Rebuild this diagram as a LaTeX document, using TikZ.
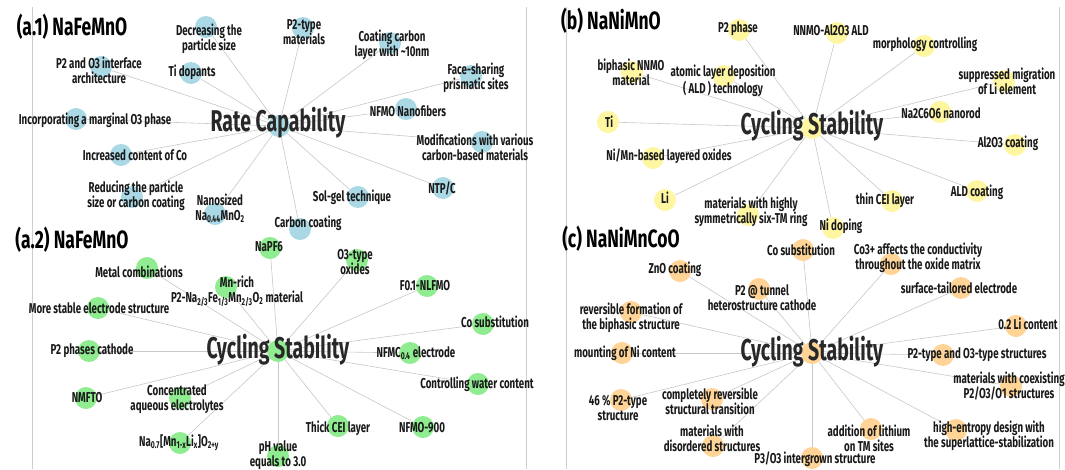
\documentclass[tikz,border=0pt]{standalone}
\usepackage{fontspec}
\setmainfont{Fira Sans}[FakeStretch=0.72]
\newfontfamily\tagfont{Fira Sans}[FakeStretch=0.68]
\newfontfamily\hubfont{Fira Sans}[FakeStretch=0.65]
\newfontfamily\panelfont{Fira Sans}[FakeStretch=0.70]
\usepackage{tikz}

\definecolor{nodeblue}{RGB}{170,216,228}
\definecolor{nodegreen}{RGB}{144,236,144}
\definecolor{nodeyellow}{RGB}{255,246,162}
\definecolor{nodeorange}{RGB}{255,212,150}
\definecolor{labelgray}{RGB}{25,25,25}
\definecolor{hubgray}{RGB}{40,40,40}
\definecolor{linkgray}{RGB}{200,200,200}
\definecolor{framegray}{RGB}{205,205,205}

\pgfdeclarelayer{edges}
\pgfdeclarelayer{labels}
\pgfsetlayers{edges,main,labels}

\tikzset{bubble/.style = {circle, minimum size = 22pt, inner sep = 0, draw = none},
         tag/.style = {align = center, inner sep = 0, text = labelgray,
                       font = \tagfont\bfseries\fontsize{14.3}{15}\selectfont},
         hub/.style = {inner sep = 0, text = hubgray,
                       font = \hubfont\bfseries\fontsize{30}{31}\selectfont},
         panel/.style = {inner sep = 0, text = black,
                         font = \panelfont\bfseries\fontsize{25}{26}\selectfont},
         link/.style = {draw = linkgray, line width = 0.6pt},
         frame/.style = {draw = framegray, line width = 1pt}}

\begin{document}
\begin{tikzpicture}[x = 1pt, y = -1pt]
\useasboundingbox (0,0) rectangle (1065,469);
\begin{pgfonlayer}{edges}
  \fill[white] (0,0) rectangle (1065,469);
  \draw[frame] (32,7) -- (32,469);
  \draw[frame] (526,7) -- (526,469);
  \draw[frame] (566,7) -- (566,469);
  \draw[frame] (1059,7) -- (1059,469);
\end{pgfonlayer}

\begin{pgfonlayer}{labels}
  \node[panel] (Ta1) at (72,27) {(a.1) NaFeMnO};
  \node[panel] (Ta2) at (72,240) {(a.2) NaFeMnO};
  \node[panel] (Tb) at (611,21) {(b) NaNiMnO};
  \node[panel] (Tc) at (621,239) {(c) NaNiMnCoO};
\end{pgfonlayer}

% (a.1)
\node[bubble, fill = nodeblue] (RC) at (279,126) {};
\begin{pgfonlayer}{labels}
  \node[hub] at (278,123) {Rate Capability};
\end{pgfonlayer}
\foreach \cx/\cy/\lx/\ly/\txt [count=\i] in {
    206/27/209/39/{Decreasing the\\particle size},
    101/67/99/70/{P2 and O3 interface\\architecture},
    191/73/192/72/{Ti dopants},
    76/119/95/120/{Incorporating a marginal O3 phase},
    121/155/135/155/{Increased content of Co},
    132/197/136/196/{Reducing the particle\\size or carbon coating},
    215/214/220/208/{Nanosized\\Na\textsubscript{0.44}MnO\textsubscript{2}},
    300/229/308/223/{Carbon coating},
    358/197/352/197/{Sol-gel technique},
    443/188/442/188/{NTP/C},
    482/142/475/147/{Modifications with various\\carbon-based materials},
    406/109/408/111/{NFMO Nanofibers},
    471/76/476/78/{Face-sharing\\prismatic sites},
    390/43/392/45/{Coating carbon\\layer with \textasciitilde10nm},
    303/28/304/32/{P2-type\\materials}}{
  \node[bubble, fill = nodeblue] (RC\i) at (\cx,\cy) {};
  \begin{pgfonlayer}{labels}
    \node[tag] at (\lx,\ly) {\txt};
  \end{pgfonlayer}
  \begin{pgfonlayer}{edges}
    \draw[link] (RC) -- (RC\i);
  \end{pgfonlayer}
}

% (a.2)
\node[bubble, fill = nodegreen] (CSa) at (278,351) {};
\begin{pgfonlayer}{labels}
  \node[hub] at (278,350) {Cycling Stability};
\end{pgfonlayer}
\foreach \cx/\cy/\lx/\ly/\txt [count=\i] in {
    147/268/139/272/{Metal combinations},
    98/308/99/308/{More stable electrode structure},
    89/351/92/351/{P2 phases cathode},
    86/398/87/398/{NMFTO},
    180/398/177/399/{Concentrated\\aqueous electrolytes},
    180/443/179/443/{Na\textsubscript{0.7}[Mn\textsubscript{1-x}Li\textsubscript{x}]O\textsubscript{2+y}},
    278/456/278/455/{pH value\\equals to 3.0},
    338/426/338/428/{Thick CEI layer},
    423/427/422/428/{NFMO-900},
    478/384/477/384/{Controlling water content},
    410/353/416/353/{NFMC\textsubscript{0.4} electrode},
    483/324/495/322/{Co substitution},
    427/286/425/286/{F0.1-NLFMO},
    357/260/355/262/{O3-type\\oxides},
    270/248/269/247/{NaPF6},
    226/287/237/291/{Mn-rich\\P2-Na\textsubscript{2/3}Fe\textsubscript{1/3}Mn\textsubscript{2/3}O\textsubscript{2} material}}{
  \node[bubble, fill = nodegreen] (CSa\i) at (\cx,\cy) {};
  \begin{pgfonlayer}{labels}
    \node[tag] at (\lx,\ly) {\txt};
  \end{pgfonlayer}
  \begin{pgfonlayer}{edges}
    \draw[link] (CSa) -- (CSa\i);
  \end{pgfonlayer}
}

% (b)
\node[bubble, fill = nodeyellow] (CSb) at (812,128) {};
\begin{pgfonlayer}{labels}
  \node[hub] at (812,126) {Cycling Stability};
\end{pgfonlayer}
\foreach \cx/\cy/\lx/\ly/\txt [count=\i] in {
    739/30/738/29/{P2 phase},
    837/33/831/30/{NNMO-Al2O3 ALD},
    924/46/925/44/{morphology controlling},
    1004/81/1007/81/{suppressed migration\\of Li element},
    940/112/941/113/{Na2C6O6 nanorod},
    1015/145/1008/143/{Al2O3 coating},
    977/191/977/192/{ALD coating},
    892/201/885/200/{thin CEI layer},
    833/228/841/226/{Ni doping},
    748/215/751/212/{materials with highly\\symmetrically six-TM ring},
    665/200/665/198/{Li},
    653/158/669/156/{Ni/Mn-based layered oxides},
    608/122/609/122/{Ti},
    632/72/631/72/{biphasic NNMO\\material},
    724/76/723/81/{atomic layer deposition\\( ALD ) technology}}{
  \node[bubble, fill = nodeyellow] (CSb\i) at (\cx,\cy) {};
  \begin{pgfonlayer}{labels}
    \node[tag] at (\lx,\ly) {\txt};
  \end{pgfonlayer}
  \begin{pgfonlayer}{edges}
    \draw[link] (CSb) -- (CSb\i);
  \end{pgfonlayer}
}

% (c)
\node[bubble, fill = nodeorange] (CSc) at (812,353) {};
\begin{pgfonlayer}{labels}
  \node[hub] at (812,352) {Cycling Stability};
\end{pgfonlayer}
\foreach \cx/\cy/\lx/\ly/\txt [count=\i] in {
    803/250/801/250/{Co substitution},
    891/264/918/258/{Co3+ affects the conductivity\\throughout the oxide matrix},
    961/288/959/288/{surface-tailored electrode},
    1016/326/1028/324/{0.2 Li content},
    943/355/977/355/{P2-type and O3-type structures},
    1011/386/1009/386/{materials with coexisting\\P2/O3/O1 structures},
    956/430/989/436/{high-entropy design with\\the superlattice-stabilization},
    871/429/869/438/{addition of lithium\\on TM sites},
    812/458/815/459/{P3/O3 intergrown structure},
    713/446/712/438/{materials with\\disordered structures},
    712/399/710/401/{completely reversible\\structural transition},
    621/400/618/408/{46 \% P2-type\\structure},
    622/353/625/353/{mounting of Ni content},
    631/312/631/318/{reversible formation of\\the biphasic structure},
    680/271/675/269/{ZnO coating},
    759/289/762/298/{P2 @ tunnel\\heterostructure cathode}}{
  \node[bubble, fill = nodeorange] (CSc\i) at (\cx,\cy) {};
  \begin{pgfonlayer}{labels}
    \node[tag] at (\lx,\ly) {\txt};
  \end{pgfonlayer}
  \begin{pgfonlayer}{edges}
    \draw[link] (CSc) -- (CSc\i);
  \end{pgfonlayer}
}
\end{tikzpicture}
\end{document}
